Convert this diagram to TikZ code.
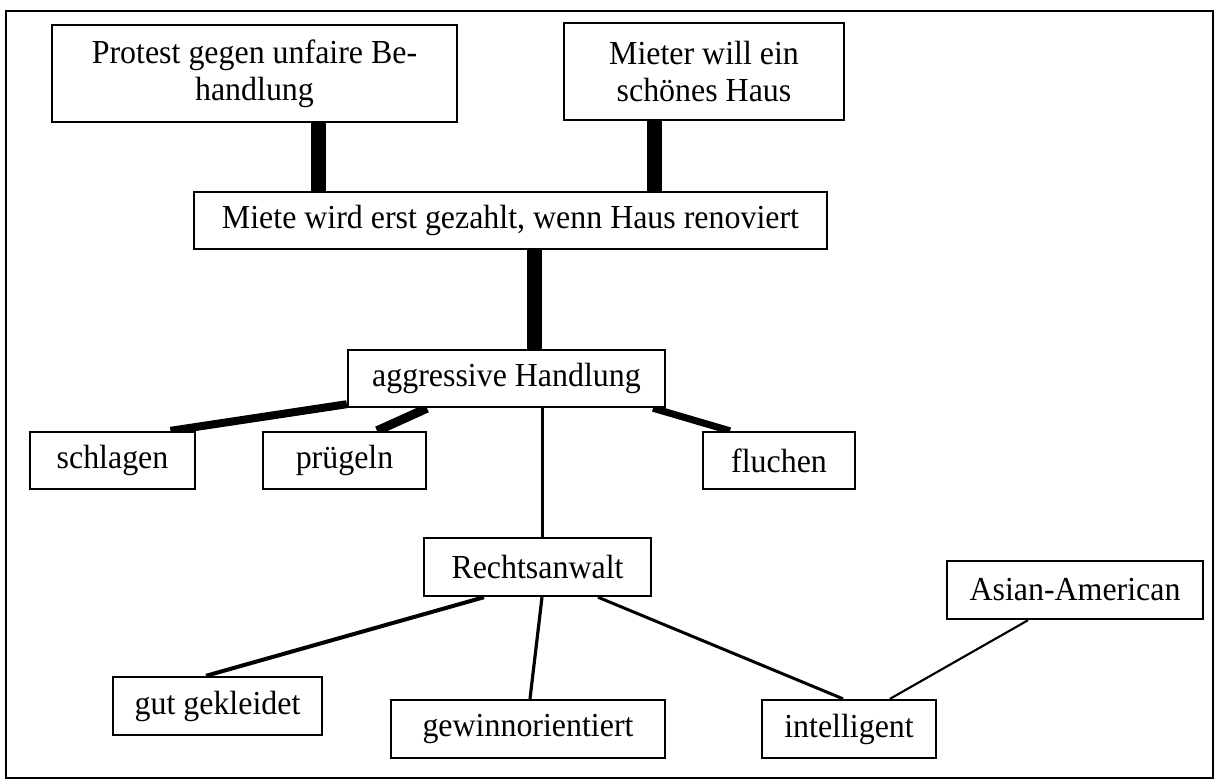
\documentclass[tikz,border=0pt]{standalone}
\usepackage{fontspec}
\setmainfont[FakeStretch=0.95]{Liberation Serif}
\usetikzlibrary{calc,backgrounds}
\begin{document}
\begin{tikzpicture}[x=0.75pt,y=-0.75pt,
  box/.style={draw,line width=1.8pt,fill=white,inner sep=0pt,align=center,
    font=\fontsize{25.2}{27.75}\selectfont},
  sz/.style 2 args={minimum width=#1*0.75pt,minimum height=#2*0.75pt},
  heavy/.style={line width=11.25pt},
  bold/.style={line width=#1*0.75pt},
  plain/.style={line width=2.25pt},
  fine/.style={line width=1.6pt}]
\useasboundingbox (0,0) rectangle (1219,783);

% outer frame
\draw[line width=1.7pt] (6,11) rectangle (1213,778);

% concept boxes
\node[box,sz={405}{97}] (protest) at (254.5,73.5) {Protest gegen unfaire Be-\\handlung};
\node[box,sz={280}{97}] (mieter)  at (704,71.5)   {Mieter will ein\\schönes Haus};
\node[box,sz={633}{57}] (miete)   at (510.5,220.5) {Miete wird erst gezahlt, wenn Haus renoviert};
\node[box,sz={317}{57}] (aggr)    at (506.5,378.5) {aggressive Handlung};
\node[box,sz={165}{57}] (schlagen) at (112.5,460.5) {schlagen};
\node[box,sz={163}{57}] (pruegeln) at (344.5,460.5) {prügeln};
\node[box,sz={152}{57}] (fluchen)  at (779,460.5)   {fluchen};
\node[box,sz={227}{58}] (rechts)   at (537.5,567)   {Rechtsanwalt};
\node[box,sz={209}{58}] (gut)      at (217.5,706)   {gut gekleidet};
\node[box,sz={274}{58}] (gewinn)   at (528,729)     {gewinnorientiert};
\node[box,sz={174}{58}] (intel)    at (849,729)     {intelligent};
\node[box,sz={256}{58}] (asian)    at (1075,590)    {Asian-American};

% connectors, drawn underneath the boxes
\begin{pgfonlayer}{background}
\draw[heavy] ($(protest.south)+(64,0)$) -- ($(miete.north)+(-192,0)$);
\draw[heavy] ($(mieter.south)+(-49.5,0)$) -- ($(miete.north)+(144,0)$);
\draw[heavy] ($(miete.south)+(24,0)$) -- ($(aggr.north)+(28,0)$);
\draw[bold=8]  ($(aggr.south west)+(0,-4)$) -- ($(schlagen.north)+(58,0)$);
\draw[bold=9]  ($(aggr.south)+(-79.5,0)$) -- ($(pruegeln.north)+(32.5,0)$);
\draw[bold=7]  ($(aggr.south)+(146.5,0)$) -- ($(fluchen.north)+(-49,0)$);
\draw[plain] ($(aggr.south)+(35.5,0)$) -- ($(rechts.north)+(4.5,0)$);
\draw[bold=4] ($(rechts.south)+(-53.5,0)$) -- ($(gut.north)+(-11.5,0)$);
\draw[bold=3.2] ($(rechts.south)+(4.5,0)$) -- ($(gewinn.north)+(2,0)$);
\draw[plain] ($(rechts.south)+(60.5,0)$) -- ($(intel.north)+(-6,0)$);
\draw[fine] ($(asian.south)+(-47,0)$) -- ($(intel.north)+(41,0)$);
\end{pgfonlayer}
\end{tikzpicture}
\end{document}
